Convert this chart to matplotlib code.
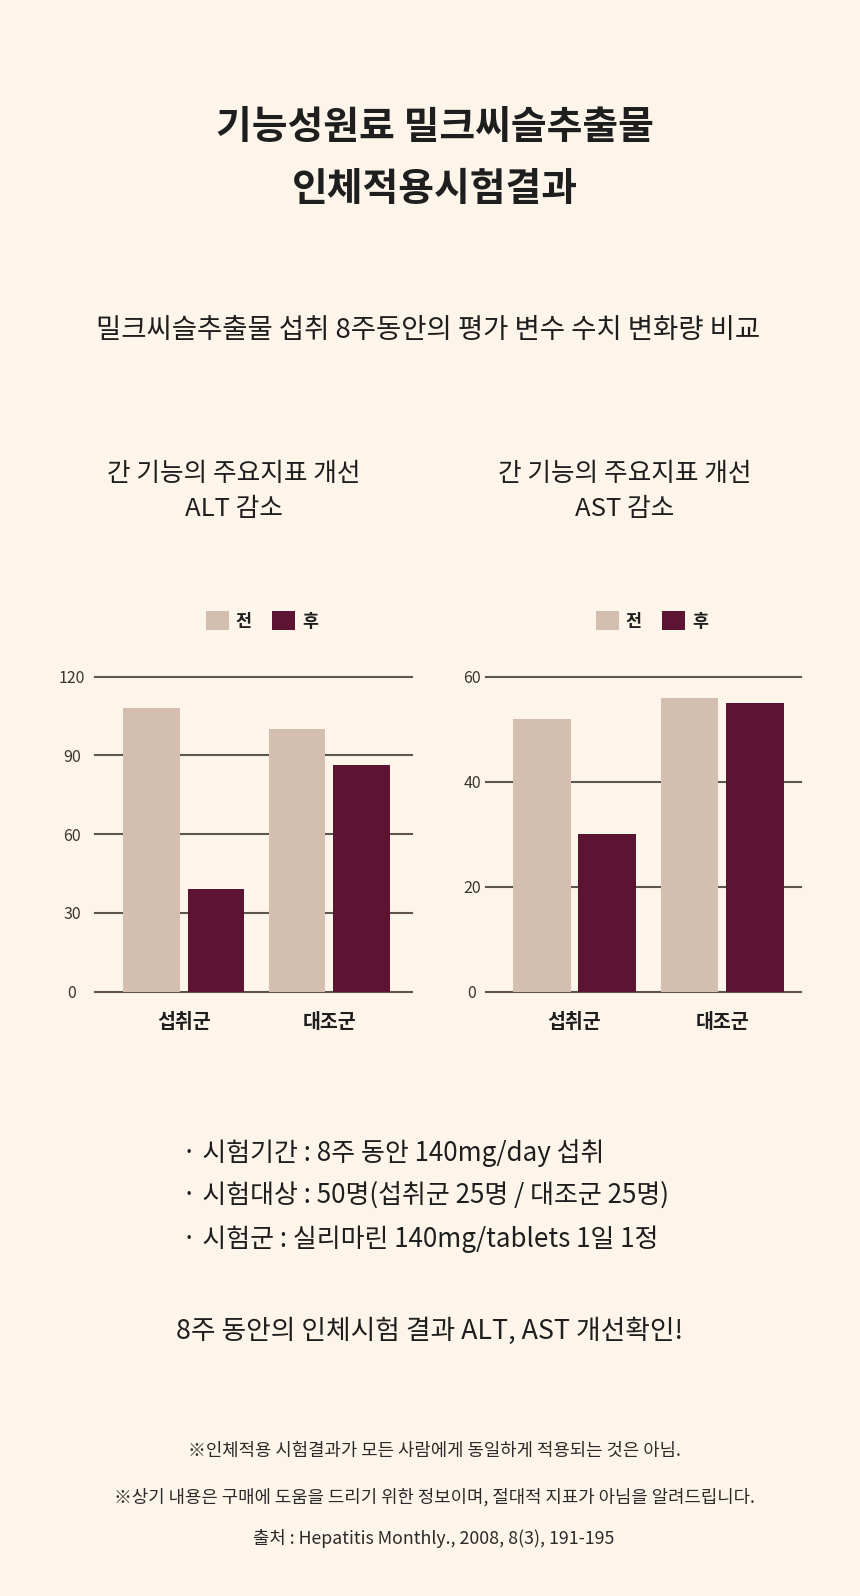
#milk thistle ALT / AST bar charts
import matplotlib.pyplot as plt
import numpy as np

plt.rcParams['font.family'] = ['Noto Sans CJK KR', 'DejaVu Sans']

#data
groups = ['섭취군', '대조군']
legendNames = ['전', '후']
altBefore = [108, 100]
altAfter = [39, 86.5]
astBefore = [52, 56]
astAfter = [30, 55]
altTicks = [0, 30, 60, 90, 120]
astTicks = [0, 20, 40, 60]

bgColor = '#FDF5EA'
lightBar = '#D3BEB0'
darkBar = '#5D1432'
gridColor = '#5C5650'
textColor = '#1E1E1E'

fig = plt.figure(figsize=(8.6, 15.96), dpi=100, facecolor=bgColor)


def drawChart(rect, before, after, ticks, xlim, tickPad, legendX):
    ax = fig.add_axes(rect, facecolor=bgColor)
    x = np.arange(len(groups))
    w = 0.39
    off = 0.222
    b1 = ax.bar(x - off, before, w, color=lightBar, zorder=3, label=legendNames[0])
    b2 = ax.bar(x + off, after, w, color=darkBar, zorder=3, label=legendNames[1])
    ax.set_ylim(0, ticks[-1])
    ax.set_xlim(*xlim)
    ax.set_yticks(ticks)
    ax.set_yticklabels([str(t) for t in ticks], fontsize=11.5, color='#3A3530',
                       ha='center')
    ax.tick_params(axis='y', length=0, pad=tickPad)
    ax.set_xticks(x)
    ax.set_xticklabels(groups, fontsize=14, fontweight='bold', color=textColor)
    ax.tick_params(axis='x', length=0, pad=15)
    ax.yaxis.grid(True, color=gridColor, linewidth=1.5, zorder=1)
    for line in ax.get_ygridlines():
        line.set_clip_on(False)
    for s in ax.spines.values():
        s.set_visible(False)
    leg = fig.legend(handles=[b1, b2], labels=legendNames, loc='center',
                     bbox_to_anchor=(legendX, 1 - 621 / 1596), ncol=2,
                     frameon=False, fontsize=12.5, handlelength=1.3,
                     handleheight=1.3, handletextpad=0.4, columnspacing=1.2)
    for t in leg.get_texts():
        t.set_fontweight('bold')
        t.set_color(textColor)
    return ax


H = 1596.0
W = 860.0
axBottom = 1 - 991.7 / H
axHeight = 315 / H
drawChart([95 / W, axBottom, 316.7 / W, axHeight], altBefore, altAfter,
          altTicks, (-0.609, 1.566), 16.5, 262 / W)
drawChart([486 / W, axBottom, 314.7 / W, axHeight], astBefore, astAfter,
          astTicks, (-0.599, 1.531), 10, 652 / W)

#titles
fig.text(435 / W, 1 - 127 / H, '기능성원료 밀크씨슬추출물', ha='center', va='center',
         fontsize=28, fontweight='bold', color=textColor)
fig.text(435 / W, 1 - 190 / H, '인체적용시험결과', ha='center', va='center',
         fontsize=28, fontweight='bold', color=textColor)
fig.text(428 / W, 1 - 330 / H, '밀크씨슬추출물 섭취 8주동안의 평가 변수 수치 변화량 비교',
         ha='center', va='center', fontsize=19.8, color=textColor)

#chart titles
for cx, name in [(234, 'ALT'), (625, 'AST')]:
    fig.text(cx / W, 1 - 474 / H, '간 기능의 주요지표 개선', ha='center', va='center',
             fontsize=18.5, color=textColor)
    fig.text(cx / W, 1 - 509 / H, name + ' 감소', ha='center', va='center',
             fontsize=18.5, color=textColor)

#bullet notes
bullets = ['· 시험기간 : 8주 동안 140mg/day 섭취',
           '· 시험대상 : 50명(섭취군 25명 / 대조군 25명)',
           '· 시험군 : 실리마린 140mg/tablets 1일 1정']
for y, b in zip([1153, 1195, 1239], bullets):
    fig.text(182 / W, 1 - y / H, b, ha='left', va='center', fontsize=18.7,
             color=textColor)

fig.text(430 / W, 1 - 1331 / H, '8주 동안의 인체시험 결과 ALT, AST 개선확인!',
         ha='center', va='center', fontsize=19.3, color=textColor)

#footnotes
notes = ['※인체적용 시험결과가 모든 사람에게 동일하게 적용되는 것은 아님.',
         '※상기 내용은 구매에 도움을 드리기 위한 정보이며, 절대적 지표가 아님을 알려드립니다.',
         '출처 : Hepatitis Monthly., 2008, 8(3), 191-195']
for y, n in zip([1451, 1497, 1539], notes):
    fig.text(434 / W, 1 - y / H, n, ha='center', va='center', fontsize=12.8,
             color='#2A2A2A')

fig.savefig('out.png', dpi=100, facecolor=bgColor)
